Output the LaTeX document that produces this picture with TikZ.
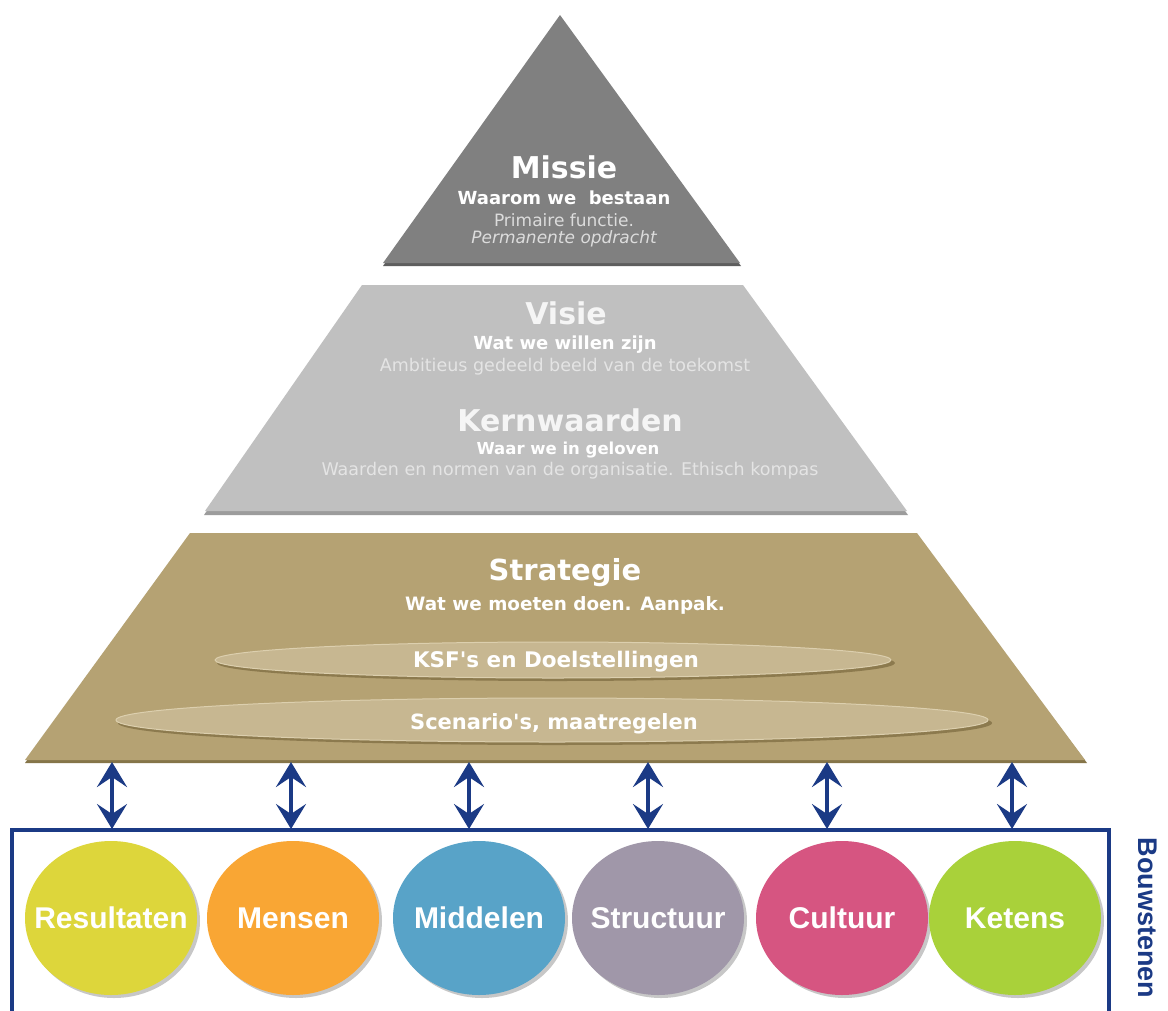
\documentclass[tikz,border=0pt]{standalone}
\usepackage{fontspec}
\setmainfont{DejaVu Sans}
\newfontfamily\libsans{Liberation Sans}
\usetikzlibrary{shapes.geometric,arrows.meta}
\definecolor{missiegray}{HTML}{808080}
\definecolor{missieshadow}{HTML}{5E5E5E}
\definecolor{visiegray}{HTML}{C0C0C0}
\definecolor{visieshadow}{HTML}{9C9C9C}
\definecolor{strat}{HTML}{B5A273}
\definecolor{stratshadow}{HTML}{857549}
\definecolor{ovalfill}{HTML}{C7B791}
\definecolor{ovalrim}{HTML}{8C7A4E}
\definecolor{ovallight}{HTML}{DCCFAE}
\definecolor{navy}{HTML}{1B3A85}
\definecolor{cres}{HTML}{DDD63B}
\definecolor{cmen}{HTML}{F9A634}
\definecolor{cmid}{HTML}{58A3C8}
\definecolor{cstr}{HTML}{A097A9}
\definecolor{ccul}{HTML}{D65581}
\definecolor{cket}{HTML}{A9D13A}
\definecolor{lightline}{HTML}{DCDCDC}
\definecolor{faintline}{HTML}{E4E4E4}
\tikzset{
  title/.style={font=\bfseries\fontsize{30}{34}\selectfont, text=white, inner sep=0pt},
  subline/.style={font=\bfseries\fontsize{18}{21}\selectfont, text=white, inner sep=0pt},
  smallline/.style={font=\fontsize{17}{20}\selectfont, text=lightline, inner sep=0pt},
  faint/.style={font=\fontsize{17.5}{20}\selectfont, text=faintline, inner sep=0pt},
  oval/.style={ellipse, fill=ovalfill, draw=ovallight, line width=1pt, inner sep=0pt},
  ovaltext/.style={font=\bfseries\fontsize{21.5}{24}\selectfont, text=white, inner sep=0pt},
  block/.style={ellipse, inner sep=0pt, minimum width=172pt, minimum height=154pt},
  blocklabel/.style={font=\libsans\bfseries\fontsize{30}{34}\selectfont, text=white, inner sep=0pt},
  link/.style={navy, line width=4pt,
    {Stealth[length=25pt,width=30pt,inset=10pt]}-{Stealth[length=25pt,width=30pt,inset=10pt]}},
}
\begin{document}
\begin{tikzpicture}[x=1pt,y=-1pt]
\useasboundingbox (0,0) rectangle (1168,1010);
\fill[white] (0,0) rectangle (1168,1010);

% Missie triangle
\fill[missieshadow] (383,266) -- (560,18) -- (741,266) -- cycle;
\fill[missiegray] (383,263) -- (560,15) -- (740,263) -- cycle;
\node[title] (missie) at (564,167) {Missie};
\node[subline] (waarom) at (564,198) {Waarom we\ \ bestaan};
\node[smallline] (primair) at (564,220) {Primaire functie.};
\node[smallline, font=\itshape\fontsize{17}{20}\selectfont] (perm) at (564,239) {Permanente opdracht};

% Visie / Kernwaarden trapezoid
\fill[visieshadow] (362,288) -- (743,288) -- (908,515) -- (204,515) -- cycle;
\fill[visiegray] (362,285) -- (743,285) -- (907,511) -- (205,511) -- cycle;
\node[title, text=white!96!black] (visie) at (566,313) {Visie};
\node[subline, font=\bfseries\fontsize{18}{21}\selectfont] (willen) at (565,345) {Wat we willen zijn};
\node[faint] (ambit) at (565,367) {Ambitieus gedeeld beeld van de toekomst};
\node[title, text=white!96!black] (kern) at (570,420) {Kernwaarden};
\node[subline, font=\bfseries\fontsize{16.5}{19}\selectfont] (geloven) at (568,450) {Waar we in geloven};
\node[faint] (normen) at (570,471) {Waarden en normen van de organisatie. Ethisch kompas};

% Strategie trapezoid
\fill[stratshadow] (190,536) -- (917,536) -- (1087,763) -- (25,763) -- cycle;
\fill[strat] (190,533) -- (917,533) -- (1085,760) -- (25,760) -- cycle;
\node[title, font=\bfseries\fontsize{29}{33}\selectfont] (strategie) at (565,573) {Strategie};
\node[subline, font=\bfseries\fontsize{18.4}{21}\selectfont] (aanpak) at (565,605) {Wat we moeten doen. Aanpak.};
\fill[ovalrim] (556,663) ellipse [x radius=339pt, y radius=18pt];
\node[oval, minimum width=676pt, minimum height=36pt] (ksf) at (553,660) {};
\node[ovaltext] (ksftext) at (556,662) {KSF\textquotesingle s en Doelstellingen};
\fill[ovalrim] (555,723) ellipse [x radius=437pt, y radius=22pt];
\node[oval, minimum width=872pt, minimum height=44pt] (scen) at (552,720) {};
\node[ovaltext, font=\bfseries\fontsize{21}{24}\selectfont] (scentext) at (554,724) {Scenario\textquotesingle s, maatregelen};

% Bouwstenen frame
\draw[navy, line width=3.2pt] (12,1012) -- (12,830) -- (1109,830) -- (1109,1012);
\node[font=\libsans\bfseries\fontsize{27}{30}\selectfont, text=navy, rotate=-90, inner sep=0pt] (bouw) at (1148,918) {Bouwstenen};

% connectors
\foreach \i/\x in {1/112,2/291,3/469,4/648,5/827,6/1012}{
  \coordinate (s\i) at (\x,762);
  \coordinate (b\i) at (\x,829);
  \draw[link] (s\i) -- (b\i);
}

% building blocks
\foreach \n/\x/\c/\t in {r/111/cres/Resultaten, m/293/cmen/Mensen, mi/479/cmid/Middelen, st/658/cstr/Structuur, cu/842/ccul/Cultuur, k/1015/cket/Ketens}{
  \fill[black, opacity=0.22] (\x+3,921) ellipse [x radius=86pt, y radius=77pt];
  \node[block, fill=\c] (\n) at (\x,918) {};
  \node[blocklabel] (\n text) at (\x,918) {\t};
}
\end{tikzpicture}
\end{document}
